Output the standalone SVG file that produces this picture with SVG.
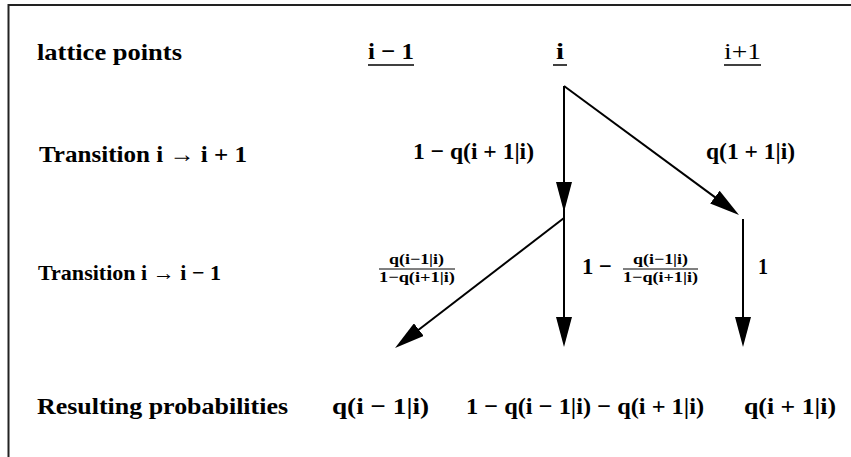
<svg xmlns="http://www.w3.org/2000/svg" width="851" height="457" viewBox="0 0 851 457" font-family="'Liberation Serif', 'Times New Roman', 'DejaVu Serif', serif">
<defs>
<style>
text{font-weight:bold;fill:#000}
.big{font-size:24px}
.mid{font-size:22px}
.sm{font-size:15px}
.reg{font-weight:normal}
.conn{stroke:#000;stroke-width:2;fill:none}
.ul{stroke:#000;stroke-width:1.5}
.bar{stroke:#000;stroke-width:1}
</style>
<marker id="ah" markerUnits="userSpaceOnUse" viewBox="0 0 30 16" markerWidth="30" markerHeight="16" refX="24" refY="8" orient="auto">
<path d="M0,0 L30,8 L0,16 z" fill="#000"/>
</marker>
</defs>
<rect width="851" height="457" fill="#fff"/>
<path d="M8.5,457 V5 H851" stroke="#222" stroke-width="2" fill="none"/>

<g id="row-labels">
<text class="big" x="37" y="60" textLength="145" lengthAdjust="spacingAndGlyphs">lattice points</text>
<text class="big" x="39" y="162" textLength="208" lengthAdjust="spacingAndGlyphs">Transition i → i + 1</text>
<text class="mid" x="38" y="280" textLength="183" lengthAdjust="spacingAndGlyphs">Transition i → i − 1</text>
<text class="big" x="37" y="414" textLength="251" lengthAdjust="spacingAndGlyphs">Resulting probabilities</text>
</g>

<g id="lattice-im1">
<text class="big" x="368" y="59" textLength="46" lengthAdjust="spacingAndGlyphs">i − 1</text>
<line class="ul" x1="368" y1="65" x2="414" y2="65"/>
</g>
<g id="lattice-i">
<text class="big" x="556" y="59" textLength="8" lengthAdjust="spacingAndGlyphs">i</text>
<line class="ul" x1="553" y1="65" x2="567" y2="65"/>
</g>
<g id="lattice-ip1">
<text class="big reg" x="724" y="59" textLength="37" lengthAdjust="spacingAndGlyphs">i+1</text>
<line class="ul" x1="724" y1="65" x2="761" y2="65"/>
</g>

<g id="connectors">
<line class="conn" x1="564" y1="86" x2="564" y2="206" marker-end="url(#ah)"/>
<line class="conn" x1="564" y1="86" x2="734.2" y2="211.4" marker-end="url(#ah)"/>
<line class="conn" x1="743" y1="219" x2="743" y2="341" marker-end="url(#ah)"/>
<line class="conn" x1="564" y1="218" x2="399.8" y2="344.3" marker-end="url(#ah)"/>
<line class="conn" x1="564" y1="206" x2="564" y2="341" marker-end="url(#ah)"/>
</g>

<g id="edge-labels">
<text class="big" x="413" y="159" textLength="121" lengthAdjust="spacingAndGlyphs">1 − q(i + 1|i)</text>
<text class="big" x="706" y="159" textLength="89" lengthAdjust="spacingAndGlyphs">q(1 + 1|i)</text>
<g id="frac-left">
<text class="sm" x="389" y="264" textLength="55" lengthAdjust="spacingAndGlyphs">q(i−1|i)</text>
<line class="bar" x1="379" y1="269" x2="455" y2="269"/>
<text class="sm" x="379" y="282" textLength="76" lengthAdjust="spacingAndGlyphs">1−q(i+1|i)</text>
</g>
<g id="frac-mid">
<text class="big" x="582" y="274" textLength="30" lengthAdjust="spacingAndGlyphs">1 −</text>
<text class="sm" x="633" y="264" textLength="55" lengthAdjust="spacingAndGlyphs">q(i−1|i)</text>
<line class="bar" x1="623" y1="269" x2="698" y2="269"/>
<text class="sm" x="623" y="282" textLength="75" lengthAdjust="spacingAndGlyphs">1−q(i+1|i)</text>
</g>
<text class="big" x="758" y="274" textLength="10" lengthAdjust="spacingAndGlyphs">1</text>
</g>

<g id="results">
<text class="big" x="332" y="414" textLength="97" lengthAdjust="spacingAndGlyphs">q(i − 1|i)</text>
<text class="big" x="466" y="414" textLength="238" lengthAdjust="spacingAndGlyphs">1 − q(i − 1|i) − q(i + 1|i)</text>
<text class="big" x="744" y="414" textLength="92" lengthAdjust="spacingAndGlyphs">q(i + 1|i)</text>
</g>
</svg>
